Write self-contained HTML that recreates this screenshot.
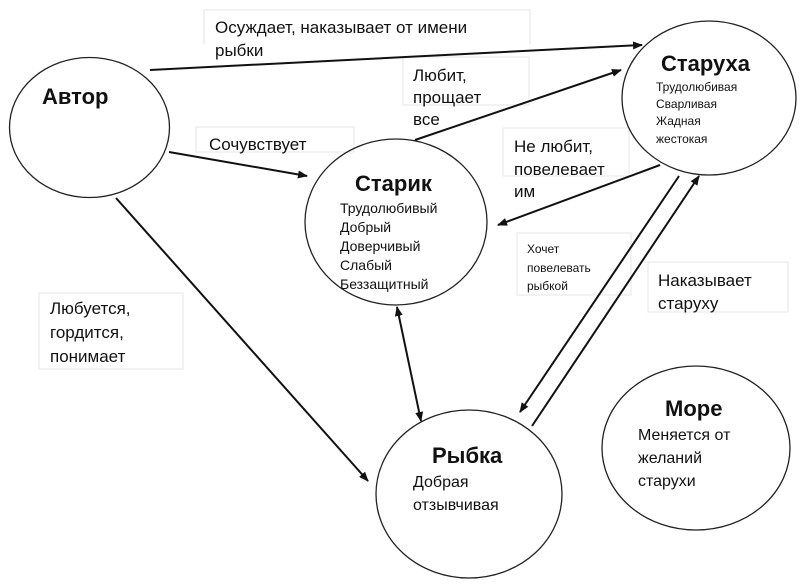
<!DOCTYPE html>
<html><head><meta charset="utf-8"><style>
html,body{margin:0;padding:0;background:#fff;}
svg{display:block;}
text{font-family:"Liberation Sans",sans-serif;fill:#111;}
.b{font-weight:bold;}
</style></head><body>
<svg width="800" height="586" viewBox="0 0 800 586" xmlns="http://www.w3.org/2000/svg">
<defs>
<marker id="a" markerWidth="10" markerHeight="8" refX="9" refY="4" orient="auto" markerUnits="userSpaceOnUse">
<path d="M0,0 L10,4 L0,8 z" fill="#111"/></marker>
<marker id="s" markerWidth="10" markerHeight="8" refX="1" refY="4" orient="auto" markerUnits="userSpaceOnUse">
<path d="M10,0 L0,4 L10,8 z" fill="#111"/></marker>
</defs>
<g fill="none" stroke="#e6e6e6" stroke-width="1">
<path d="M204,44 V10 H530 V44"/>
<rect x="403" y="57" width="126" height="48"/>
<rect x="196" y="127" width="158" height="25"/>
<rect x="503" y="128" width="126" height="48"/>
<rect x="517" y="233" width="114" height="62"/>
<rect x="648" y="262" width="140" height="50"/>
<rect x="39" y="293" width="144" height="76"/>
</g>
<g fill="none" stroke="#222" stroke-width="1.3">
<ellipse cx="89.5" cy="127.5" rx="80" ry="70"/>
<ellipse cx="396" cy="222" rx="91" ry="83"/>
<ellipse cx="709" cy="98" rx="87" ry="77"/>
<ellipse cx="469" cy="494" rx="93" ry="84"/>
<ellipse cx="696" cy="448" rx="94" ry="82"/>
</g>
<g stroke="#111" stroke-width="2" fill="none">
<line x1="150" y1="70" x2="642" y2="45" marker-end="url(#a)"/>
<line x1="169" y1="152" x2="307" y2="176" marker-end="url(#a)"/>
<line x1="116" y1="198" x2="368" y2="481" marker-end="url(#a)"/>
<line x1="415" y1="140" x2="621" y2="70" marker-end="url(#a)"/>
<line x1="660" y1="165" x2="498" y2="225" marker-end="url(#a)"/>
<line x1="679" y1="176" x2="520" y2="412" marker-end="url(#a)"/>
<line x1="532" y1="426" x2="699" y2="176" marker-end="url(#a)"/>
<line x1="397" y1="307" x2="421" y2="421" marker-start="url(#s)" marker-end="url(#a)"/>
</g>
<g font-size="17">
<text x="215" y="33">Осуждает, наказывает от имени</text>
<text x="215" y="56">рыбки</text>
<text x="413" y="81">Любит,</text>
<text x="413" y="103">прощает</text>
<text x="413" y="125">все</text>
<text x="209" y="150">Сочувствует</text>
<text x="514" y="152">Не любит,</text>
<text x="514" y="175">повелевает</text>
<text x="514" y="197">им</text>
<text x="658" y="286">Наказывает</text>
<text x="658" y="309">старуху</text>
<text x="50" y="314">Любуется,</text>
<text x="50" y="338">гордится,</text>
<text x="50" y="362">понимает</text>
</g>
<g font-size="12">
<text x="527" y="253">Хочет</text>
<text x="527" y="272">повелевать</text>
<text x="527" y="290">рыбкой</text>
</g>
<text class="b" x="42" y="104" font-size="22">Автор</text>
<text class="b" x="355" y="191" font-size="22">Старик</text>
<text class="b" x="661" y="71" font-size="22">Старуха</text>
<text class="b" x="432" y="463" font-size="22">Рыбка</text>
<text class="b" x="665" y="416" font-size="22">Море</text>
<g font-size="14">
<text x="340" y="213">Трудолюбивый</text>
<text x="340" y="232">Добрый</text>
<text x="340" y="251">Доверчивый</text>
<text x="340" y="270">Слабый</text>
<text x="340" y="289">Беззащитный</text>
</g>
<g font-size="12">
<text x="656" y="91">Трудолюбивая</text>
<text x="656" y="108">Сварливая</text>
<text x="656" y="125">Жадная</text>
<text x="656" y="143">жестокая</text>
</g>
<g font-size="16">
<text x="413" y="487">Добрая</text>
<text x="413" y="510">отзывчивая</text>
<text x="638" y="440">Меняется от</text>
<text x="638" y="463">желаний</text>
<text x="638" y="486">старухи</text>
</g>
</svg>
</body></html>
